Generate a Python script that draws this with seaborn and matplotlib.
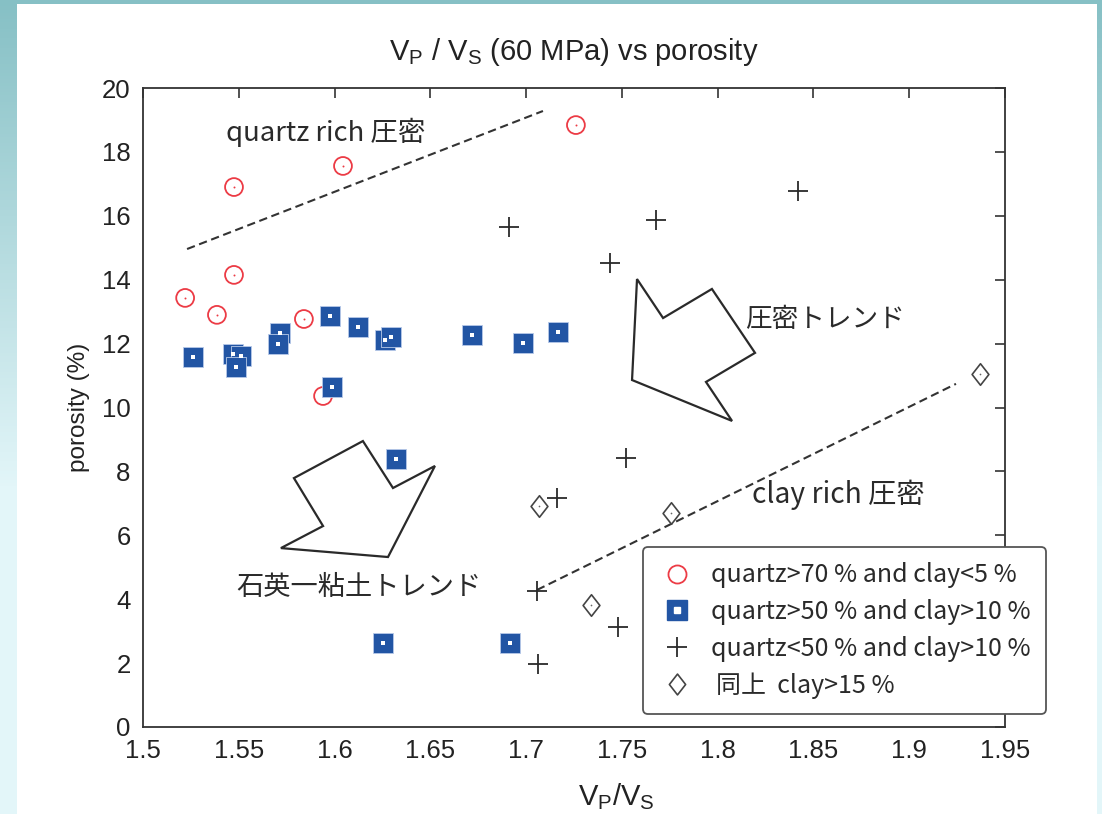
import numpy as np
import pandas as pd
import matplotlib
matplotlib.use("Agg")
import matplotlib.pyplot as plt
import seaborn as sns
from matplotlib.lines import Line2D
from matplotlib.patches import Polygon, Rectangle
from matplotlib.path import Path

# ---- data: Vp/Vs ratio at 60 MPa vs porosity (%) ----
qz_rich_vpvs = [1.522, 1.5386, 1.5475, 1.5475, 1.584, 1.6044, 1.726, 1.594]
qz_rich_por = [13.43, 12.90, 14.15, 16.90, 12.77, 17.56, 18.84, 10.36]

qz_mid_vpvs = [1.526, 1.547, 1.551, 1.5485, 1.5715, 1.5705, 1.5976, 1.6122,
               1.6263, 1.6295, 1.5987, 1.6717, 1.6984, 1.7166, 1.632, 1.6253, 1.6916]
qz_mid_por = [11.58, 11.67, 11.61, 11.27, 12.33, 11.99, 12.86, 12.52,
              12.11, 12.20, 10.64, 12.27, 12.02, 12.36, 8.39, 2.63, 2.63]

qz_low_vpvs = [1.691, 1.7438, 1.768, 1.842, 1.752, 1.716, 1.7057, 1.748, 1.706]
qz_low_por = [15.65, 14.52, 15.87, 16.78, 8.42, 7.17, 4.26, 3.13, 1.97]

clay15_vpvs = [1.7067, 1.7756, 1.7339, 1.937]
clay15_por = [6.92, 6.70, 3.82, 11.05]

group_labels = ["quartz>70 % and clay<5 %",
                "quartz>50 % and clay>10 %",
                "quartz<50 % and clay>10 %",
                "\u2009同上  clay>15 %"]

x_ticks = [1.5, 1.55, 1.6, 1.65, 1.7, 1.75, 1.8, 1.85, 1.9, 1.95]
y_ticks = list(range(0, 21, 2))

# trend guide lines (Vp/Vs, porosity end points)
quartz_trend_x = [1.523, 1.7088]
quartz_trend_y = [14.96, 19.28]
clay_trend_x = [1.7057, 1.9244]
clay_trend_y = [4.29, 10.74]

# block arrows in data coordinates
compaction_arrow = [(1.7579, 14.02), (1.7715, 12.80), (1.7970, 13.71), (1.8195, 11.71),
                    (1.7939, 10.80), (1.8075, 9.58), (1.7553, 10.86)]
mixing_arrow = [(1.6148, 8.95), (1.6305, 7.48), (1.6524, 8.17), (1.6279, 5.32),
                (1.5720, 5.60), (1.5940, 6.29), (1.5788, 7.79)]

# ---- style ----
sns.set_style("white")
plt.rcParams["font.family"] = ["Liberation Sans", "Noto Sans CJK JP", "DejaVu Sans"]
plt.rcParams["mathtext.fontset"] = "custom"
plt.rcParams["mathtext.rm"] = "Liberation Sans"
plt.rcParams["mathtext.it"] = "Liberation Sans"

W, H, DPI = 1102, 814, 100
fig = plt.figure(figsize=(W / DPI, H / DPI), dpi=DPI)

# page background: teal gradient with a white sheet on top
bg = fig.add_axes([0, 0, 1, 1], zorder=-10)
bg.set_axis_off()
top = np.array([0x86, 0xc0, 0xc5]) / 255
low = np.array([0xe3, 0xf6, 0xf9]) / 255
t = np.clip(np.linspace(0, 1, 256) / 0.6, 0, 1)[:, None]
grad = (top[None, :] * (1 - t) + low[None, :] * t)[:, None, :]
bg.imshow(grad, aspect="auto", extent=[0, 1, 0, 1], origin="upper")
bg.add_patch(Rectangle((17 / W, 0), (1097 - 17) / W, 1 - 4 / H,
                       transform=bg.transAxes, facecolor="white", edgecolor="none"))
bg.set_xlim(0, 1)
bg.set_ylim(0, 1)

ax = fig.add_axes([143 / W, 1 - 727 / H, (1005 - 143) / W, (727 - 88) / H])
ax.set_facecolor("white")

ink = "#2a2a2a"
red = "#ec3b45"
blue = "#2255a4"

# trend lines
ax.plot(quartz_trend_x, quartz_trend_y, color="#333333", lw=1.5, dashes=(4, 2.2), zorder=2)
ax.plot(clay_trend_x, clay_trend_y, color="#333333", lw=1.5, dashes=(4, 2.2), zorder=2)

# block arrows
for verts in (compaction_arrow, mixing_arrow):
    ax.add_patch(Polygon(verts, closed=True, facecolor="white", edgecolor=ink,
                         lw=1.6, joinstyle="miter", zorder=1.5))

# diamond marker slightly taller than wide
diamond = Path([(0, 1), (0.78, 0), (0, -1), (-0.78, 0), (0, 1)],
               [Path.MOVETO, Path.LINETO, Path.LINETO, Path.LINETO, Path.CLOSEPOLY])

# quartz-rich: hollow red circles
df_r = pd.DataFrame({"vpvs": qz_rich_vpvs, "por": qz_rich_por})
sns.scatterplot(data=df_r, x="vpvs", y="por", ax=ax, marker="o", s=165,
                color=red, edgecolor=red, linewidth=1.3, legend=False, zorder=4)
ax.collections[-1].set_facecolor("none")
sns.scatterplot(data=df_r, x="vpvs", y="por", ax=ax, marker="o", s=2,
                color=red, linewidth=0, legend=False, zorder=4)

# quartz>50 %: filled blue squares with a light centre
df_b = pd.DataFrame({"vpvs": qz_mid_vpvs, "por": qz_mid_por})
sns.scatterplot(data=df_b, x="vpvs", y="por", ax=ax, marker="s", s=215,
                color=blue, edgecolor="#b7c9e8", linewidth=0.6, legend=False, zorder=5)
sns.scatterplot(data=df_b, x="vpvs", y="por", ax=ax, marker="s", s=6,
                color="white", linewidth=0, legend=False, zorder=6)

# quartz<50 %: black plus signs
df_p = pd.DataFrame({"vpvs": qz_low_vpvs, "por": qz_low_por})
sns.scatterplot(data=df_p, x="vpvs", y="por", ax=ax, marker="+", s=190,
                color=ink, linewidth=1.3, legend=False, zorder=4)

# clay>15 %: hollow diamonds
df_d = pd.DataFrame({"vpvs": clay15_vpvs, "por": clay15_por})
sns.scatterplot(data=df_d, x="vpvs", y="por", ax=ax, marker=diamond, s=240,
                color="#444444", edgecolor="#444444", linewidth=1.2, legend=False, zorder=4)
ax.collections[-1].set_facecolor("white")
sns.scatterplot(data=df_d, x="vpvs", y="por", ax=ax, marker="o", s=1.5,
                color="#666666", linewidth=0, legend=False, zorder=4)

# annotations
cjk = ["Noto Sans CJK JP", "DejaVu Sans"]
ax.text(1.5433, 18.62, "quartz rich 圧密", family=cjk, fontsize=19.8, color=ink,
        va="center", ha="left")
ax.text(1.8145, 12.74, "圧密トレンド", family=cjk, fontsize=19.2, color=ink,
        va="center", ha="left")
ax.text(1.818, 7.26, "clay rich 圧密", family=cjk, fontsize=20.3, color=ink,
        va="center", ha="left")
ax.text(1.5485, 4.38, "石英一粘土トレンド", family=cjk, fontsize=19.6, color=ink,
        va="center", ha="left")

# axes
ax.set_xlim(1.5, 1.95)
ax.set_ylim(0, 20)
ax.set_xticks(x_ticks)
ax.set_xticklabels([f"{v:g}" for v in x_ticks])
ax.set_yticks(y_ticks)
ax.tick_params(direction="in", length=7, width=1.1, top=True, right=True,
               labelsize=18.5, colors="#222222")
ax.tick_params(axis="x", pad=9)
ax.tick_params(axis="y", pad=9)
for sp in ax.spines.values():
    sp.set_visible(True)
    sp.set_color("#333333")
    sp.set_linewidth(1.3)

ax.set_title(r"V$_\mathregular{P}$ / V$_\mathregular{S}$ (60 MPa) vs porosity",
             fontsize=21, color="#222222", pad=20)
ax.set_xlabel(r"V$_\mathregular{P}$/V$_\mathregular{S}$", fontsize=21, color="#222222")
ax.xaxis.set_label_coords((616 - 143) / 862, -0.085)
ax.set_ylabel("porosity (%)", fontsize=17.5, color="#222222")
ax.yaxis.set_label_coords(-0.061, 0.5)

# legend
h_r = Line2D([], [], ls="none", marker="o", ms=13, mfc="none", mec=red, mew=1.3)
h_b = (Line2D([], [], ls="none", marker="s", ms=14, mfc=blue, mec=blue),
       Line2D([], [], ls="none", marker="s", ms=4.5, mfc="white", mec="white"))
h_p = Line2D([], [], ls="none", marker="+", ms=15, mec=ink, mew=1.3)
h_d = Line2D([], [], ls="none", marker=diamond, ms=15, mfc="white", mec="#444444", mew=1.2)
leg = ax.legend([h_r, h_b, h_p, h_d], group_labels,
                loc="upper left", bbox_to_anchor=(643 / W, 1 - 547 / H),
                bbox_transform=fig.transFigure,
                prop={"family": cjk, "size": 18},
                frameon=True, fancybox=True, framealpha=1, edgecolor="#555555",
                borderpad=0.62, labelspacing=0.42, handletextpad=0.6,
                handlelength=1.5, borderaxespad=0)
leg.get_frame().set_linewidth(1.3)
for txt in leg.get_texts():
    txt.set_color(ink)
leg.set_zorder(10)

fig.savefig("out.png", dpi=DPI)
